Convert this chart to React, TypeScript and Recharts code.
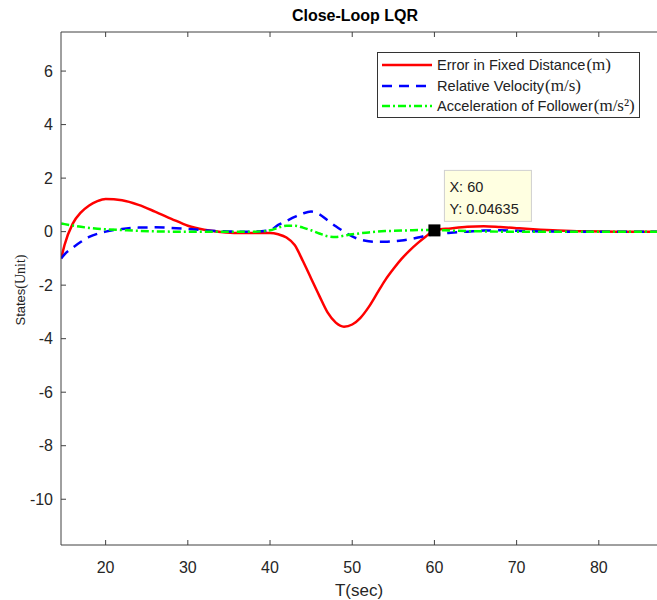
import { LineChart, Line, XAxis, YAxis, ReferenceDot } from 'recharts'

const time = [14.6, 15, 16, 17, 18, 19, 20, 22, 24, 26, 28, 30, 32, 34, 36, 38, 40, 41, 42, 43, 44, 45, 46, 47, 48, 49, 50, 51, 52, 53, 54, 55, 56, 57, 58, 59, 60, 62, 64, 66, 68, 70, 72, 75, 78, 82, 87.1]
const errorDist = [-1.0, -0.5, 0.3, 0.72, 0.98, 1.14, 1.22, 1.17, 1.0, 0.75, 0.48, 0.22, 0.07, -0.01, -0.05, -0.05, -0.05, -0.1, -0.22, -0.5, -1.1, -1.75, -2.4, -3.02, -3.4, -3.55, -3.47, -3.22, -2.82, -2.32, -1.82, -1.4, -1.02, -0.7, -0.42, -0.17, 0.05, 0.12, 0.18, 0.2, 0.17, 0.13, 0.09, 0.04, 0.01, 0, 0]
const relVelocity = [-1.0, -0.85, -0.6, -0.38, -0.2, -0.08, 0.0, 0.1, 0.15, 0.16, 0.14, 0.1, 0.05, 0.02, 0, 0, 0.05, 0.25, 0.4, 0.55, 0.68, 0.75, 0.65, 0.42, 0.2, 0.0, -0.18, -0.3, -0.36, -0.38, -0.38, -0.36, -0.33, -0.28, -0.22, -0.15, -0.1, -0.04, 0.0, 0.04, 0.05, 0.03, 0.01, 0, 0, 0, 0]
const accelFollower = [0.3, 0.28, 0.23, 0.18, 0.14, 0.11, 0.09, 0.06, 0.03, 0.01, 0, 0, 0, 0, 0, 0, 0.05, 0.15, 0.22, 0.22, 0.15, 0.05, -0.07, -0.17, -0.2, -0.15, -0.1, -0.06, -0.03, 0, 0.02, 0.03, 0.04, 0.05, 0.06, 0.06, 0.06, 0.04, 0.02, 0.01, 0, 0, 0, 0, 0, 0, 0]

const xTicks = [20, 30, 40, 50, 60, 70, 80]
const yTicks = [-10, -8, -6, -4, -2, 0, 2, 4, 6]

const tipX = 60
const tipY = 0.04635

const data = time.map((t, i) => ({
  t,
  err: errorDist[i],
  vel: relVelocity[i],
  acc: accelFollower[i],
}))

const SANS = '"Liberation Sans", Arial, Helvetica, sans-serif'
const SERIF = '"Liberation Serif", "Times New Roman", serif'
const AXIS = '#404040'
const TICK_TEXT = '#262626'

const series = [
  { key: 'err', label: 'Error in Fixed Distance', unit: '(m)', color: '#ff0000', dash: undefined as string | undefined },
  { key: 'vel', label: 'Relative Velocity', unit: '(m/s)', color: '#0000ff', dash: '10 7' },
  { key: 'acc', label: 'Acceleration of Follower', unit: '(m/s²)', color: '#00ff00', dash: '8 3 2 3' },
]

function LegendBox() {
  return (
    <div style={{ position: 'absolute', left: 377, top: 52, width: 263, height: 66, background: '#fff', border: '1px solid #333', boxSizing: 'border-box' }}>
      {series.map((s, i) => (
        <div key={s.key} style={{ position: 'absolute', left: 4, top: 2 + i * 20.5, height: 20, display: 'flex', alignItems: 'center', whiteSpace: 'nowrap' }}>
          <svg width={50} height={6} style={{ marginRight: 5 }}>
            <line x1={0} x2={50} y1={3} y2={3} stroke={s.color} strokeWidth={2.5} strokeDasharray={s.dash} />
          </svg>
          <span style={{ fontFamily: SANS, fontSize: 14.6, color: '#222' }}>{s.label}</span>
          <span style={{ fontFamily: SERIF, fontSize: 17, color: '#222', marginLeft: 1 }}>{s.unit}</span>
        </div>
      ))}
    </div>
  )
}

function DataTip(props: any) {
  const { cx, cy } = props
  if (cx == null || cy == null) return null
  return (
    <g>
      <rect x={cx - 6} y={cy - 6} width={12} height={12} fill="#000" />
      <rect x={cx + 10} y={cy - 60} width={87} height={51} fill="#ffffe1" stroke="#d0d0d0" strokeWidth={1} />
      <text x={cx + 15} y={cy - 38} fontFamily={SANS} fontSize={14.5} fill="#222">X: 60</text>
      <text x={cx + 15} y={cy - 16} fontFamily={SANS} fontSize={14.5} fill="#222">Y: 0.04635</text>
    </g>
  )
}

export default function App() {
  return (
    <div style={{ position: 'absolute', left: 0, top: 0, width: 657, height: 600, background: '#fff' }}>
      <LineChart width={657} height={600} data={data} margin={{ top: 31, right: 0, bottom: 0, left: 0 }}>
        <XAxis
          xAxisId="bottom"
          dataKey="t"
          type="number"
          domain={[14.57, 87.08]}
          allowDataOverflow
          ticks={xTicks}
          height={55}
          stroke={AXIS}
          tickSize={-5}
          tickMargin={22}
          tick={{ fontFamily: SANS, fontSize: 16, fill: TICK_TEXT }}
          label={{ value: 'T(sec)', position: 'insideBottom', offset: 4, fontFamily: SANS, fontSize: 17, fill: TICK_TEXT }}
        />
        <XAxis
          xAxisId="top"
          dataKey="t"
          type="number"
          orientation="top"
          domain={[14.57, 87.08]}
          allowDataOverflow
          ticks={xTicks}
          height={1}
          stroke={AXIS}
          tickSize={-5}
          tickFormatter={() => ''}
        />
        <YAxis
          domain={[-11.71, 7.46]}
          allowDataOverflow
          ticks={yTicks}
          width={61}
          stroke={AXIS}
          tickSize={-5}
          tickMargin={13}
          tick={{ fontFamily: SANS, fontSize: 16, fill: TICK_TEXT }}
        />
        <text x={355} y={21} textAnchor="middle" fontFamily={SANS} fontSize={16} fontWeight="bold" fill="#000">Close-Loop LQR</text>
        <text transform="translate(25,290) rotate(-90)" textAnchor="middle" fill="#222">
          <tspan fontFamily={SANS} fontSize={13}>States</tspan>
          <tspan fontFamily={SERIF} fontSize={14}>(Unit)</tspan>
        </text>
        <Line xAxisId="bottom" type="monotone" dataKey="err" stroke="#ff0000" strokeWidth={2.5} dot={false} isAnimationActive={false} />
        <Line xAxisId="bottom" type="monotone" dataKey="vel" stroke="#0000ff" strokeWidth={2.5} strokeDasharray="10 7" dot={false} isAnimationActive={false} />
        <Line xAxisId="bottom" type="monotone" dataKey="acc" stroke="#00ff00" strokeWidth={2.5} strokeDasharray="8 3 2 3" dot={false} isAnimationActive={false} />
        <ReferenceDot xAxisId="bottom" x={tipX} y={tipY} r={6} shape={<DataTip />} />
      </LineChart>
      <LegendBox />
    </div>
  )
}
